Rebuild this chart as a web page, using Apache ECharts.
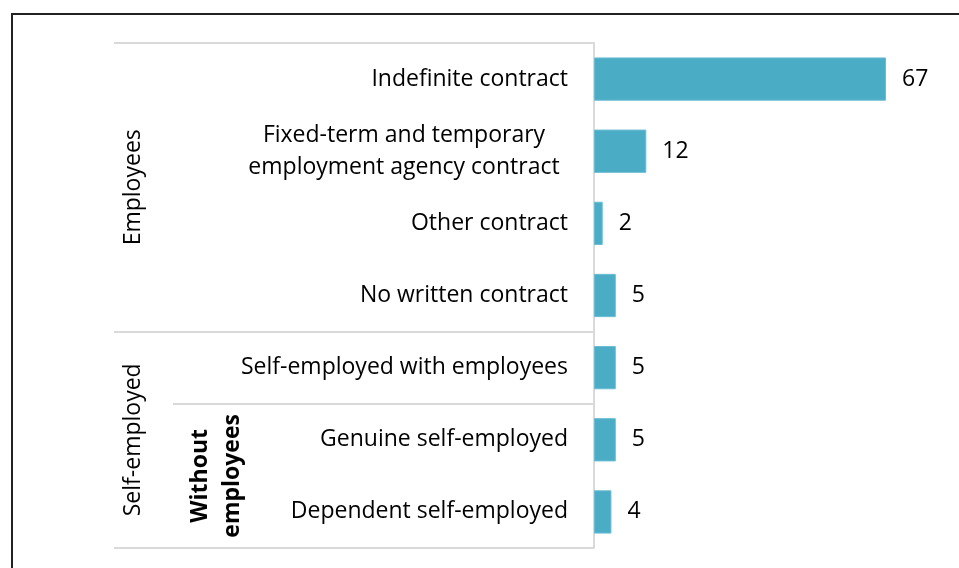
<!DOCTYPE html>
<html>
<head>
<meta charset="utf-8">
<script src="https://cdn.jsdelivr.net/npm/echarts@6/dist/echarts.min.js"></script>
<style>
  html, body { margin: 0; padding: 0; background: #fff; }
  #main { width: 959px; height: 568px; }
</style>
</head>
<body>
<div id="main"></div>
<script>
var categories = [
    'Indefinite contract',
    'Fixed-term and temporary\nemployment agency contract',
    'Other contract',
    'No written contract',
    'Self-employed with employees',
    'Genuine self-employed',
    'Dependent self-employed'
];
var values = [67, 12, 2, 5, 5, 5, 4];

// groups on the left: [label, first index, last index]
var groups = [
    ['Employees', 0, 3],
    ['Self-employed', 4, 6]
];
var subGroups = [
    ['Without\nemployees', 5, 6]
];

var FONT = '"Open Sans", Lato, sans-serif';
var FS = 23;
var LINE = '#d9d9d9';

var chartDom = document.getElementById('main');
var box = echarts.init(chartDom);

var option = {
    animation: false,
    grid: { left: 594, right: 73, top: 43, bottom: 20 },
    xAxis: {
        type: 'value',
        min: 0,
        max: 67,
        show: false
    },
    yAxis: {
        type: 'category',
        inverse: true,
        data: categories,
        axisLine: { show: true, lineStyle: { color: LINE, width: 2 } },
        axisTick: { show: false },
        axisLabel: {
            margin: 26,
            color: '#000',
            fontFamily: FONT,
            fontSize: FS,
            lineHeight: 32,
            align: 'right',
            formatter: function (v) {
                if (v.indexOf('\n') < 0) return v;
                // two-line label: lines centred on each other
                return v.split('\n').map(function (s) {
                    return '{c|' + s + '}';
                }).join('\n');
            },
            rich: {
                c: {
                    width: 316,
                    align: 'center',
                    padding: [0, 6, 0, 0],
                    fontFamily: FONT,
                    fontSize: FS,
                    lineHeight: 32,
                    color: '#000'
                }
            }
        }
    },
    series: [
        {
            type: 'bar',
            data: values,
            barWidth: '60%',
            itemStyle: {
                color: '#4bacc6',
                borderColor: '#6cbdd3',
                borderWidth: 1
            },
            label: {
                show: true,
                position: 'right',
                distance: 16,
                color: '#000',
                fontFamily: FONT,
                fontSize: FS
            }
        }
    ]
};
box.setOption(option);

// separator lines and group labels, placed from the category axis
var y0 = box.convertToPixel({ yAxisIndex: 0 }, 0);
var y1 = box.convertToPixel({ yAxisIndex: 0 }, 1);
var band = y1 - y0;
var axisX = box.convertToPixel({ xAxisIndex: 0 }, 0);
function edgeTop(i) { return box.convertToPixel({ yAxisIndex: 0 }, i) - band / 2; }
function edgeBottom(i) { return box.convertToPixel({ yAxisIndex: 0 }, i) + band / 2; }

var elements = [];
function hline(x1, y, x2) {
    elements.push({
        type: 'line',
        shape: { x1: x1, y1: Math.round(y), x2: x2, y2: Math.round(y) },
        style: { stroke: LINE, lineWidth: 2 }
    });
}
hline(114, edgeTop(0), axisX);
groups.forEach(function (g) {
    hline(114, edgeBottom(g[2]), axisX);
    elements.push({
        type: 'text',
        x: 133,
        y: (edgeTop(g[1]) + edgeBottom(g[2])) / 2,
        rotation: Math.PI / 2,
        style: {
            text: g[0],
            font: FS + 'px ' + FONT,
            fill: '#000',
            align: 'center',
            verticalAlign: 'middle'
        }
    });
});
subGroups.forEach(function (g) {
    hline(173, edgeTop(g[1]), axisX);
    elements.push({
        type: 'text',
        x: 216,
        y: (edgeTop(g[1]) + edgeBottom(g[2])) / 2,
        rotation: Math.PI / 2,
        style: {
            text: g[0],
            font: 'bold ' + FS + 'px ' + FONT,
            lineHeight: 32,
            fill: '#000',
            align: 'center',
            verticalAlign: 'middle'
        }
    });
});
// outer frame, cut off at the right and bottom
elements.push({
    type: 'rect',
    shape: { x: 12, y: 14, width: 1000, height: 1000 },
    style: { fill: null, stroke: '#222', lineWidth: 2 }
});

box.setOption({ graphic: { elements: elements } });
</script>
</body>
</html>
